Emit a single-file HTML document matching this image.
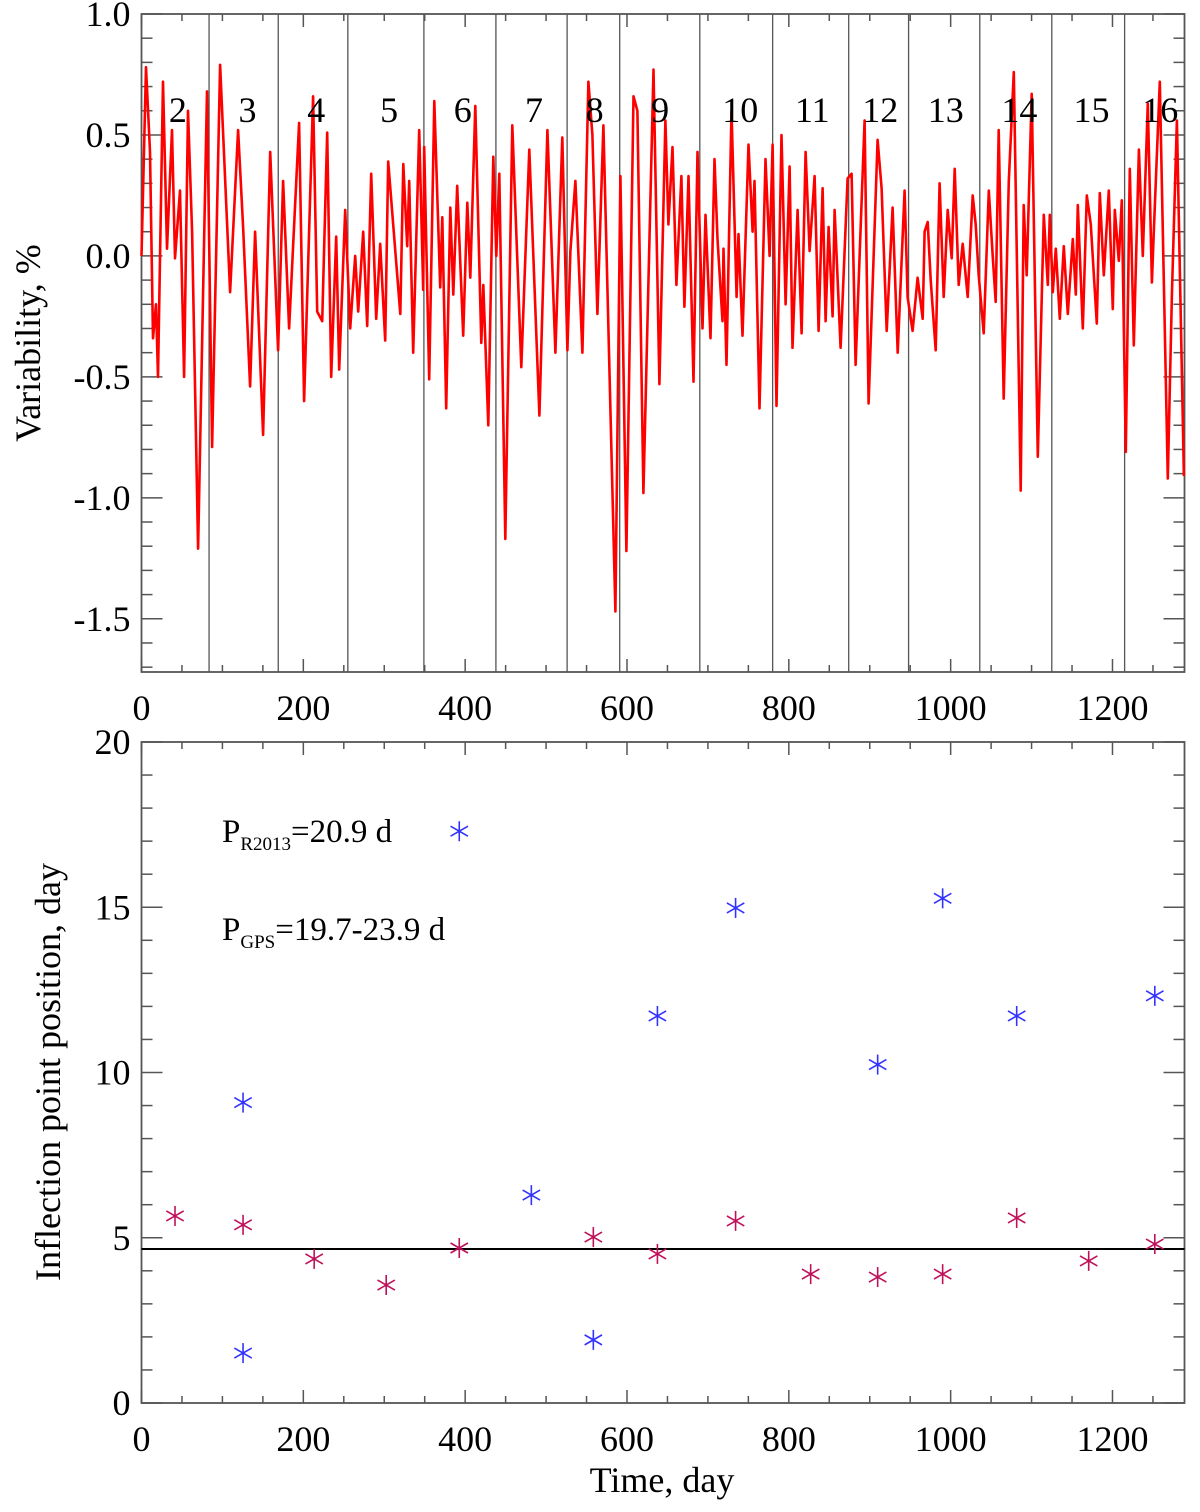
<!DOCTYPE html>
<html><head><meta charset="utf-8"><style>
html,body{margin:0;padding:0;background:#fff;}
svg{display:block;font-family:"Liberation Serif",serif;}
</style></head><body>
<svg id="fig" width="1200" height="1512" viewBox="0 0 1200 1512" xmlns="http://www.w3.org/2000/svg"></svg>
<script>
// ---- Top panel data ----
const topDays = [0,5.6,10.5,14.2,17.9,20.4,26.6,31.5,37.7,41.4,47.6,52.6,57.5,62.5,69.9,81.0,87.2,97.1,109.5,119.4,125.6,134.2,140.4,150.3,159.0,168.8,175.0,182.4,194.8,201.0,212.1,217.1,223.3,229.5,234.4,240.6,244.3,251.7,257.9,264.1,267.8,274.0,278.9,283.9,290.1,295.0,301.2,304.9,
319.8,323.5,328.4,330.9,335.8,343.2,348.2,349.4,355.6,361.8,369.2,371.7,376.6,381.6,385.3,390.2,397.6,402.6,406.3,412.5,419.9,422.4,428.6,434.8,438.5,442.2,449.6,458.3,469.4,479.3,491.7,501.6,511.5,520.1,526.3,530.0,536.2,544.9,552.3,557.3,563.4,570.9,585.7,591.9,599.3,608.0,612.9,620.3,632.7,640.1,
647.5,651.2,656.2,661.1,667.3,671.0,676.0,682.2,687.1,693.3,697.0,703.2,708.1,711.8,718.0,719.3,723.0,729.2,735.4,737.8,742.8,750.2,755.2,757.6,763.8,771.2,776.2,779.9,784.8,791.0,796.0,800.9,804.6,810.8,815.8,820.7,825.7,831.8,836.8,841.7,845.4,849.1,854.1,856.6,864.0,872.6,877.6,882.5,893.6,898.6,909.7,914.7,920.9,928.3,934.5,943.1,946.8,953.0,959.2,965.4,
967.8,971.6,975.3,981.5,986.4,991.4,996.3,1001.3,1005.0,1009.9,1014.9,1021.1,1027.3,1031.0,1034.7,1040.9,1047.1,1052.0,1055.7,1059.4,1065.6,1071.8,1078.0,1086.6,1090.3,1094.0,1100.2,1107.7,1115.1,1120.0,1122.5,1126.2,1129.9,1134.9,1139.8,1144.8,1151.0,1154.7,1157.1,1163.3,1168.3,1173.2,1180.6,1184.3,1189.3,1195.5,1200.4,1202.9,1207.8,1211.5,1216.5,1221.4,1226.4,1232.6,1237.5,1243.7,1248.7,1251.1,1258.5,1268.4,1273.4,1279.6,1288.2];
const topValues = [0.00,0.78,0.43,-0.34,-0.20,-0.50,0.72,0.03,0.52,-0.01,0.27,-0.50,0.60,0.10,-1.21,0.68,-0.79,0.79,-0.15,0.52,0.12,-0.54,0.10,-0.74,0.43,-0.39,0.31,-0.30,0.55,-0.60,0.66,-0.23,-0.27,0.51,-0.50,0.08,-0.47,0.19,-0.30,0.00,-0.23,0.10,-0.29,0.34,-0.26,0.05,-0.35,0.39,
-0.24,0.38,0.04,0.31,-0.40,0.52,-0.14,0.45,-0.51,0.64,-0.13,0.16,-0.63,0.20,-0.16,0.29,-0.33,0.22,-0.09,0.62,-0.36,-0.12,-0.70,0.41,0.00,0.34,-1.17,0.54,-0.46,0.44,-0.66,0.52,-0.40,0.49,-0.39,0.02,0.31,-0.40,0.72,0.50,-0.24,0.54,-1.47,0.33,-1.22,0.66,0.60,-0.98,0.77,-0.53,
0.56,0.13,0.45,-0.12,0.33,-0.21,0.33,-0.52,0.43,-0.30,0.17,-0.34,0.40,0.07,-0.27,0.03,-0.45,0.60,-0.17,0.09,-0.33,0.46,0.10,0.31,-0.63,0.40,0.00,0.46,-0.62,0.50,-0.20,0.37,-0.38,0.19,-0.32,0.43,0.02,0.33,-0.31,0.28,-0.27,0.12,-0.25,0.19,-0.38,0.32,0.34,-0.45,0.56,-0.61,0.48,0.28,-0.31,0.20,-0.40,0.27,-0.17,-0.31,-0.09,-0.26,
0.10,0.14,-0.10,-0.39,0.30,-0.17,0.19,-0.01,0.36,-0.12,0.05,-0.17,0.25,0.13,-0.08,-0.32,0.27,0.00,-0.19,0.52,-0.59,0.31,0.76,-0.97,0.21,-0.08,0.67,-0.83,0.17,-0.12,0.17,-0.15,0.03,-0.26,0.04,-0.24,0.07,-0.16,0.21,-0.30,0.25,0.13,-0.28,0.26,-0.08,0.27,-0.22,0.19,-0.02,0.23,-0.81,0.36,-0.37,0.44,0.00,0.63,-0.11,0.10,0.72,-0.92,-0.16,0.56,-0.91];
const boundaryDays = [83.5,169,255,349,438,526,591,690,780,874,948,1036,1125,1215];
const segmentLabels = ["2","3","4","5","6","7","8","9","10","11","12","13","14","15","16"];
const segmentLabelDays = [45,131,216,306,397,485,560,641,740,829,913,994,1085,1174,1259];
const topYTicks = [1.0,0.5,0.0,-0.5,-1.0,-1.5];
const xTicks = [0,200,400,600,800,1000,1200];
// ---- Bottom panel data ----
const blueDays = [125.5,125.5,392.7,481.8,558.4,637.6,734.2,909.8,990.1,1081.6,1252.3];
const blueValues = [9.09,1.51,17.3,6.29,1.91,11.71,14.98,10.24,15.27,11.71,12.32];
const redDays = [41.4,125.5,213.4,302.4,392.7,558.4,637.6,734.2,827,909.8,990.1,1081.6,1170.6,1252.3];
const redValues = [5.66,5.39,4.36,3.57,4.69,5.02,4.51,5.51,3.90,3.81,3.90,5.60,4.30,4.81];
const meanLevel = [4.66];
const botYTicks = [20,15,10,5,0];

const NS="http://www.w3.org/2000/svg";
const svg=document.getElementById('fig');
function mk(tag,attrs,parent){const e=document.createElementNS(NS,tag);for(const k in attrs)e.setAttribute(k,attrs[k]);(parent||svg).appendChild(e);return e;}

const L=141.5,R=1184.5;
const xMin=0,xMax=1289;
const sx=d=>L+(d-xMin)/(xMax-xMin)*(R-L);
const T1=14,B1=672,y1Max=1.0,y1Min=-1.72;
const sy1=v=>T1+(y1Max-v)/(y1Max-y1Min)*(B1-T1);
const T2=742,B2=1403,y2Max=20,y2Min=0;
const sy2=v=>T2+(y2Max-v)/(y2Max-y2Min)*(B2-T2);
const axisCol="#555";

function panel(T,B,sy,yMin,yMax,minorStep,majorStep,name,yLabels){
  const g=mk('g',{});
  
  
  mk('rect',{x:L,y:T,width:R-L,height:B-T,fill:'none',stroke:axisCol,'stroke-width':1.8},g);
  // x ticks
  for(let d=0;d<=xMax;d+=50){
    const maj=d%200===0, len=maj?13:7, x=sx(d);
    mk('line',{x1:x,y1:B,x2:x,y2:B-len,stroke:axisCol,'stroke-width':1.5},g);
    mk('line',{x1:x,y1:T,x2:x,y2:T+len,stroke:axisCol,'stroke-width':1.5},g);
  }
  const n=Math.round((yMax-yMin)/minorStep);
  for(let i=0;i<=n;i++){
    const v=yMin+i*minorStep;
    const maj=Math.abs(v/majorStep-Math.round(v/majorStep))<1e-6;
    const len=maj?21:11, y=sy(v);
    mk('line',{x1:L,y1:y,x2:L+len,y2:y,stroke:axisCol,'stroke-width':1.5},g);
    mk('line',{x1:R,y1:y,x2:R-len,y2:y,stroke:axisCol,'stroke-width':1.5},g);
  }
  yLabels.forEach(v=>{
    const t=mk('text',{x:L-11,y:sy(v)+12,'text-anchor':'end','font-size':36,fill:'#000'},g);
    t.textContent=(majorStep<1)?v.toFixed(1):String(v);
    
    
  });
  xTicks.forEach(d=>{
    const t=mk('text',{x:sx(d),y:B+48,'text-anchor':'middle','font-size':36,fill:'#000'},g);
    t.textContent=String(d);
    
    
  });
  return g;
}

// Top panel
panel(T1,B1,sy1,-1.7,1.0,0.1,0.5,'top-panel',topYTicks);
boundaryDays.forEach(d=>{
  const l=mk('line',{x1:sx(d),y1:T1,x2:sx(d),y2:B1,stroke:'#555','stroke-width':1.3});
  
  
});
let pts=topDays.map((d,i)=>sx(d).toFixed(1)+','+sy1(topValues[i]).toFixed(1)).join(' ');
const curve=mk('polyline',{points:pts,fill:'none',stroke:'#ff0000','stroke-width':2.6,'stroke-linejoin':'round'});


segmentLabels.forEach((s,i)=>{
  const t=mk('text',{x:sx(segmentLabelDays[i]),y:122,'text-anchor':'middle','font-size':36,fill:'#000'});
  t.textContent=s;
  
  
});
const yt1=mk('text',{x:0,y:0,transform:'translate(40,343) rotate(-90)','text-anchor':'middle','font-size':36,fill:'#000'});
yt1.textContent='Variability, %';



// Bottom panel
panel(T2,B2,sy2,0,20,1,5,'bottom-panel',botYTicks);
const ml=mk('line',{x1:L,y1:sy2(meanLevel[0]),x2:R,y2:sy2(meanLevel[0]),stroke:'#000','stroke-width':2});


function star(x,y,col,name){
  const g=mk('g',{stroke:col,'stroke-width':1.6});
  
  
  const r=10;
  mk('line',{x1:x,y1:y-r,x2:x,y2:y+r},g);
  mk('line',{x1:x-r*0.87,y1:y-r*0.5,x2:x+r*0.87,y2:y+r*0.5},g);
  mk('line',{x1:x-r*0.87,y1:y+r*0.5,x2:x+r*0.87,y2:y-r*0.5},g);
  mk('circle',{cx:x,cy:y,r:1.6,fill:col,stroke:'none'},g);
}
blueDays.forEach((d,i)=>star(sx(d),sy2(blueValues[i]),'#3333ff','blue-point'));
redDays.forEach((d,i)=>star(sx(d),sy2(redValues[i]),'#c0105a','crimson-point'));

const lg1=mk('text',{x:222,y:842,'font-size':33,fill:'#000'});
lg1.innerHTML='P<tspan font-size="19" dy="8">R2013</tspan><tspan dy="-8">=20.9 d</tspan>';


const lg2=mk('text',{x:222,y:940,'font-size':33,fill:'#000'});
lg2.innerHTML='P<tspan font-size="19" dy="8">GPS</tspan><tspan dy="-8">=19.7-23.9 d</tspan>';



const yt2=mk('text',{x:0,y:0,transform:'translate(60,1072) rotate(-90)','text-anchor':'middle','font-size':36,fill:'#000'});
yt2.textContent='Inflection point position, day';


const xt=mk('text',{x:662,y:1492,'text-anchor':'middle','font-size':36,fill:'#000'});
xt.textContent='Time, day';


</script>
</body></html>
